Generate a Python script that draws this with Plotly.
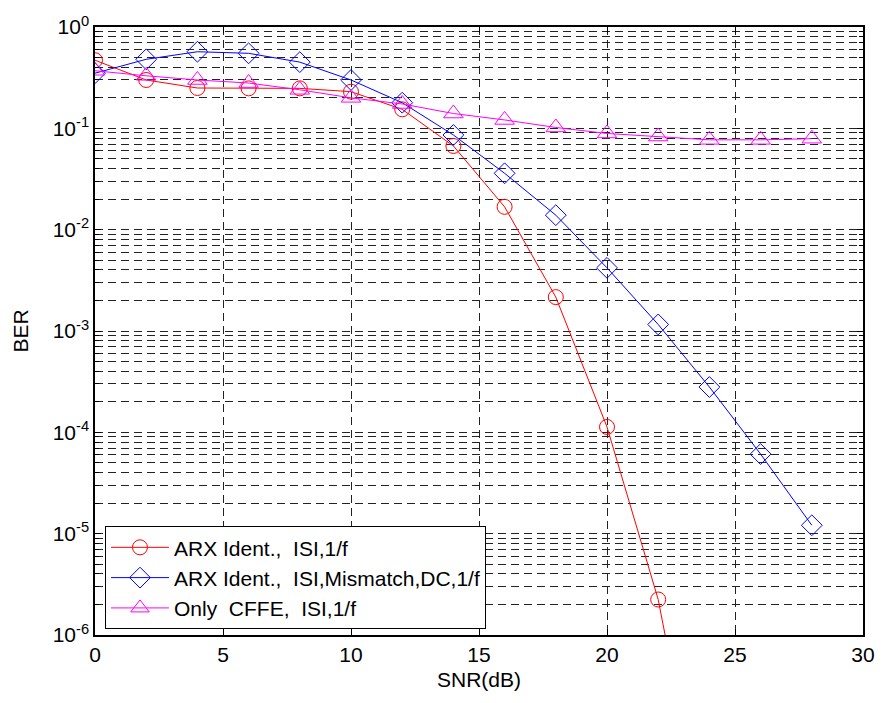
import plotly.graph_objects as go

snr_red = [0, 2, 4, 6, 8, 10, 12, 14, 16, 18, 20, 22, 24]
ber_red = [0.47, 0.30, 0.25, 0.248, 0.248, 0.23, 0.154, 0.067, 0.0168, 0.00216, 1.13e-4, 2.24e-6, 5.6e-9]

snr_blue = [0, 2, 4, 6, 8, 10, 12, 14, 16, 18, 20, 22, 24, 26, 28]
ber_blue = [0.35, 0.48, 0.57, 0.55, 0.45, 0.30, 0.179, 0.086, 0.036, 0.0139, 0.0042, 1.16e-3, 2.8e-4, 6.1e-5, 1.21e-5]

snr_mag = [0, 2, 4, 6, 8, 10, 12, 14, 16, 18, 20, 22, 24, 26, 28]
ber_mag = [0.37, 0.33, 0.30, 0.28, 0.24, 0.20, 0.174, 0.14, 0.121, 0.102, 0.089, 0.083, 0.077, 0.077, 0.079]

names = ["ARX Ident.,  ISI,1/f", "ARX Ident.,  ISI,Mismatch,DC,1/f", "Only  CFFE,  ISI,1/f"]
colors = ["#ff0000", "#0000ff", "#ff00ff"]
symbols = ["circle-open", "diamond-open", "triangle-up-open"]
sizes = [15, 16, 17]

y_major = [1e-6, 1e-5, 1e-4, 1e-3, 1e-2, 1e-1, 1]
y_labels = ["10<sup>-6</sup>", "10<sup>-5</sup>", "10<sup>-4</sup>", "10<sup>-3</sup>",
            "10<sup>-2</sup>", "10<sup>-1</sup>", "10<sup>0</sup>"]
x_ticks = [0, 5, 10, 15, 20, 25, 30]

y_minor = [m * 10.0 ** e for e in range(-6, 0) for m in range(2, 10)]

fig = go.Figure()
for xs, ys, nm, c, s, sz in zip([snr_red, snr_blue, snr_mag], [ber_red, ber_blue, ber_mag],
                                names, colors, symbols, sizes):
    fig.add_trace(go.Scatter(
        x=xs, y=ys, name=nm, mode="lines+markers",
        line=dict(color=c, width=1),
        marker=dict(symbol=s, size=sz, color=c, line=dict(color=c, width=1)),
    ))

font = "Liberation Sans, Arial, sans-serif"
grid_dash = "8px,5px"
fig.update_layout(
    width=867, height=687,
    paper_bgcolor="white", plot_bgcolor="white",
    margin=dict(l=87, r=12, t=19, b=60),
    font=dict(family=font, size=21, color="black"),
    showlegend=True,
    legend=dict(
        x=0.013, y=0.179, xanchor="left", yanchor="top",
        bgcolor="white", bordercolor="black", borderwidth=1,
        font=dict(size=21, family=font), itemwidth=58,
        tracegroupgap=0,
    ),
)
fig.update_xaxes(
    range=[0, 30], tickvals=x_ticks, ticktext=[str(v) for v in x_ticks],
    showline=True, linecolor="black", linewidth=1.5, mirror="allticks",
    ticks="inside", ticklen=6, tickcolor="black",
    showgrid=True, gridcolor="#222", griddash=grid_dash, gridwidth=1,
    zeroline=False, automargin=False,
    tickfont=dict(size=21),
    title=dict(text="SNR(dB)", font=dict(size=21), standoff=7),
)
fig.update_yaxes(
    type="log", range=[-6, 0], tickvals=y_major, ticktext=y_labels,
    showline=True, linecolor="black", linewidth=1.5, mirror="allticks",
    ticks="inside", ticklen=6, tickcolor="black",
    showgrid=True, gridcolor="#222", griddash=grid_dash, gridwidth=1,
    zeroline=False, automargin=False,
    tickfont=dict(size=21),
    title=dict(text="BER", font=dict(size=21), standoff=18),
    minor=dict(tickmode="array", tickvals=y_minor, ticks="inside", ticklen=4,
               tickcolor="black", showgrid=True, gridcolor="#222",
               griddash=grid_dash, gridwidth=1),
)

fig.write_html("out.html")
